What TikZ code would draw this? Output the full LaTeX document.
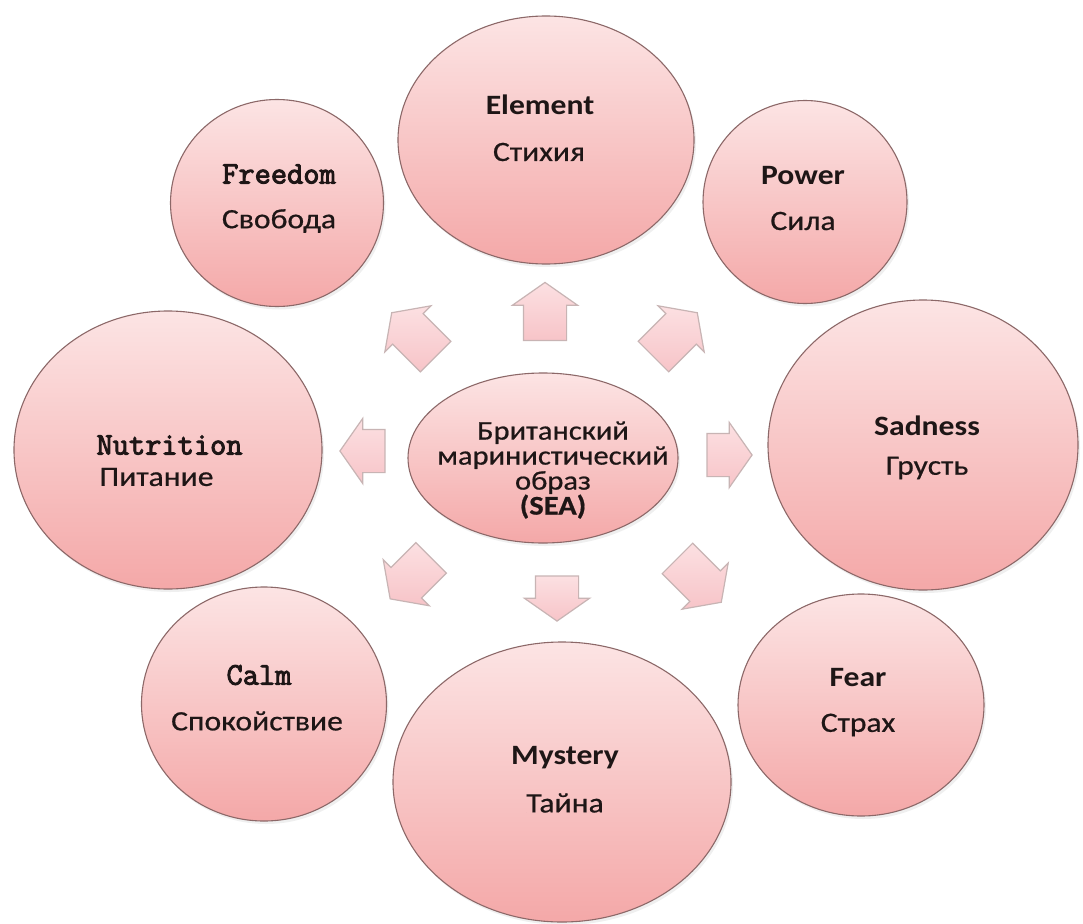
\documentclass[tikz,border=0pt]{standalone}
\usepackage{fontspec}
\setmainfont{Carlito}[FakeStretch=1.13]
\newfontfamily\rufont{Carlito}[FakeStretch=1.13, FakeBold=0.6]
\newfontfamily\monob{Latin Modern Mono}[FakeBold=3]
\usetikzlibrary{shapes.geometric,shapes.arrows,shadows}
\definecolor{ctop}{RGB}{252,228,228}
\definecolor{cbot}{RGB}{244,168,168}
\definecolor{cline}{RGB}{140,104,104}
\definecolor{atop}{RGB}{252,224,226}
\definecolor{abot}{RGB}{247,196,200}
\definecolor{aline}{RGB}{200,180,180}
\definecolor{txt}{RGB}{30,22,22}
\tikzset{
  bubble/.style={ellipse, draw=cline, line width=1.1pt, top color=ctop, bottom color=cbot,
    drop shadow={opacity=0.12, shadow xshift=2pt, shadow yshift=-3pt}, inner sep=0pt},
  blockarrow/.style={single arrow, draw=aline, line width=1.2pt, top color=atop, bottom color=abot,
    inner xsep=0pt, inner ysep=21pt, single arrow tip angle=110, single arrow head extend=11pt},
  en/.style={text=txt, font=\bfseries\fontsize{28}{30}\selectfont},
  ru/.style={text=txt, font=\rufont\fontsize{28}{30}\selectfont},
  mo/.style={text=txt, font=\monob\fontsize{31.5}{33}\selectfont},
}
\begin{document}
\begin{tikzpicture}[x=1pt,y=-1pt]
\useasboundingbox[fill=white] (0,0) rectangle (1083,923);
% bubbles
\node[bubble, minimum width=296pt, minimum height=248pt] (element) at (546,140) {};
\node[bubble, minimum width=213pt, minimum height=207pt] (freedom) at (277,203) {};
\node[bubble, minimum width=204pt, minimum height=203pt] (power) at (805,202) {};
\node[bubble, minimum width=308pt, minimum height=278pt] (nutrition) at (168,450) {};
\node[bubble, minimum width=310pt, minimum height=290pt] (sadness) at (923,445) {};
\node[bubble, minimum width=270pt, minimum height=170pt] (sea) at (543,458) {};
\node[bubble, minimum width=245pt, minimum height=234pt] (calm) at (264,704) {};
\node[bubble, minimum width=246pt, minimum height=222pt] (fear) at (861,705) {};
\node[bubble, minimum width=338pt, minimum height=280pt] (mystery) at (562,782) {};
% arrows
\node[blockarrow, minimum height=58pt, rotate=90] (aup) at (545,319) {};
\node[blockarrow, minimum height=62pt, rotate=135] (aul) at (419,340) {};
\node[blockarrow, minimum height=62pt, rotate=45] (aur) at (670,340) {};
\node[blockarrow, minimum height=45pt, rotate=180] (aleft) at (370,451) {};
\node[blockarrow, minimum height=45pt, rotate=0] (aright) at (722,455) {};
\node[blockarrow, minimum height=58pt, rotate=225] (all) at (416,573) {};
\node[blockarrow, minimum height=45pt, rotate=270] (adown) at (557,591) {};
\node[blockarrow, minimum height=62pt, rotate=315] (alr) at (694,575) {};
% texts
\node[en] (t1) at (540,105) {Element};
\node[ru] (t2) at (539,152) {Стихия};
\node[mo] (t3) at (279,174) {Freedom};
\node[ru] (t4) at (279,221) {Свобода};
\node[en] (t5) at (803,176) {Power};
\node[ru] (t6) at (803,221) {Сила};
\node[mo, anchor=west] (t7) at (93,445) {Nutrition};
\node[ru, anchor=west] (t8) at (96,477) {Питание};
\node[en] (t9) at (927,426) {Sadness};
\node[ru] (t10) at (927,468) {Грусть};
\node[mo] (t11) at (259,675) {Calm};
\node[ru] (t12) at (257,721) {Спокойствие};
\node[en] (t13) at (858,678) {Fear};
\node[ru] (t14) at (858,725) {Страх};
\node[en] (t15) at (565,758) {Mystery};
\node[ru] (t16) at (565,803) {Тайна};
\node[text=txt, font=\rufont\fontsize{27}{25}\selectfont, align=center] (t17) at (553,470)
  {Британский\\маринистический\\образ\\\textbf{(SEA)}};
\end{tikzpicture}
\end{document}
